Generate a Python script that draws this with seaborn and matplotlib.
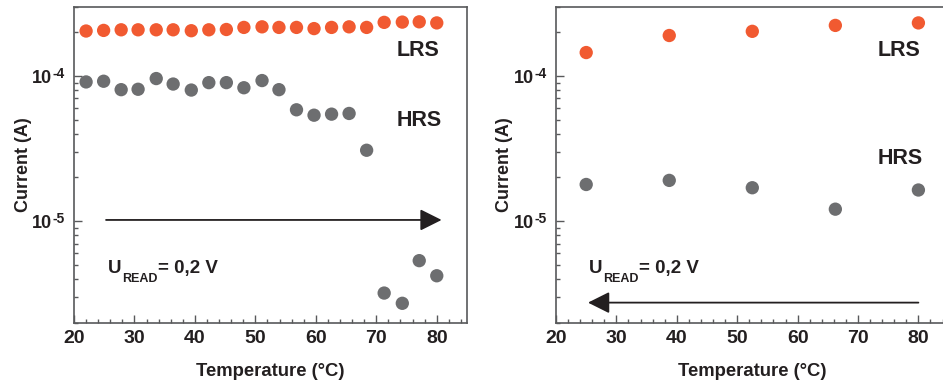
import matplotlib
matplotlib.use("Agg")
import matplotlib.pyplot as plt
import seaborn as sns
import pandas as pd
from matplotlib.ticker import LogLocator, FixedLocator, MultipleLocator, NullFormatter
from matplotlib.transforms import offset_copy, blended_transform_factory

sns.set_theme(style="ticks")
plt.rcParams['font.family'] = ['Liberation Sans', 'DejaVu Sans']
plt.rcParams['font.weight'] = 'bold'

# ---- data: heating (left panel) ----
temp_heat = [22.0, 24.9, 27.8, 30.6, 33.6, 36.4, 39.4, 42.3, 45.2, 48.1, 51.1,
             53.9, 56.8, 59.7, 62.6, 65.5, 68.4, 71.3, 74.3, 77.1, 80.0]
lrs_heat = [2.04e-4, 2.06e-4, 2.08e-4, 2.08e-4, 2.08e-4, 2.08e-4, 2.05e-4, 2.08e-4,
            2.09e-4, 2.16e-4, 2.18e-4, 2.16e-4, 2.16e-4, 2.12e-4, 2.16e-4, 2.18e-4,
            2.16e-4, 2.34e-4, 2.35e-4, 2.36e-4, 2.32e-4]
hrs_heat = [9.1e-5, 9.2e-5, 8.05e-5, 8.1e-5, 9.6e-5, 8.8e-5, 8.0e-5, 9.0e-5, 9.0e-5,
            8.3e-5, 9.3e-5, 8.05e-5, 5.85e-5, 5.37e-5, 5.46e-5, 5.52e-5, 3.08e-5,
            3.2e-6, 2.72e-6, 5.35e-6, 4.21e-6]

# ---- data: cooling (right panel) ----
temp_cool = [25.0, 38.75, 52.5, 66.25, 80.0]
lrs_cool = [1.45e-4, 1.90e-4, 2.03e-4, 2.23e-4, 2.32e-4]
hrs_cool = [1.79e-5, 1.91e-5, 1.70e-5, 1.21e-5, 1.64e-5]

x_ticks = [20, 30, 40, 50, 60, 70, 80]
y_ticks = [1e-5, 1e-4]
y_exponents = ['-5', '-4']

C_LRS = '#F15A31'
C_HRS = '#6D6E70'
C_TXT = '#231F20'
C_SPINE = '#58595B'

W, H = 943, 381
PT = 0.72  # points per pixel at 100 dpi
fig = plt.figure(figsize=(W / 100, H / 100), dpi=100)

def px_axes(x0, y0, x1, y1):
    return fig.add_axes([x0 / W, 1 - y1 / H, (x1 - x0) / W, (y1 - y0) / H])

axL = px_axes(74, 6.7, 467, 322.7)
axR = px_axes(556, 6.7, 556 + 65 * 6.04, 322.7)

def style(ax, ylab_x):
    ax.set_yscale('log')
    ax.set_xlim(20, 85)
    ax.set_ylim(2e-6, 3e-4)
    ax.xaxis.set_major_locator(FixedLocator(x_ticks))
    ax.xaxis.set_minor_locator(MultipleLocator(2))
    ax.set_xticklabels([str(t) for t in x_ticks])
    ax.yaxis.set_major_locator(FixedLocator(y_ticks))
    ax.yaxis.set_major_formatter(NullFormatter())
    ax.yaxis.set_minor_locator(LogLocator(base=10, subs=range(2, 10), numticks=20))
    ax.yaxis.set_minor_formatter(NullFormatter())
    ax.tick_params(which='both', direction='in', color=C_SPINE, width=1.0,
                   top=False, right=False)
    ax.tick_params(which='major', length=6, labelsize=14, labelcolor=C_TXT, pad=5)
    ax.tick_params(which='minor', length=3)
    for s in ax.spines.values():
        s.set_color(C_SPINE)
        s.set_linewidth(1.2)
    ax.set_xlabel('Temperature (°C)', fontsize=13.3, fontweight='bold', color=C_TXT, labelpad=12)
    ax.set_ylabel('Current (A)', fontsize=13, fontweight='bold', color=C_TXT)
    ax.yaxis.set_label_coords(ylab_x, 0.5)
    ax.grid(False)

dfL = pd.DataFrame({'T': temp_heat + temp_heat,
                    'I': lrs_heat + hrs_heat,
                    'state': ['LRS'] * len(temp_heat) + ['HRS'] * len(temp_heat)})
dfR = pd.DataFrame({'T': temp_cool + temp_cool,
                    'I': lrs_cool + hrs_cool,
                    'state': ['LRS'] * len(temp_cool) + ['HRS'] * len(temp_cool)})
pal = {'LRS': C_LRS, 'HRS': C_HRS}

for ax, df, lx in [(axL, dfL, -0.108), (axR, dfR, -0.11)]:
    sns.scatterplot(data=df, x='T', y='I', hue='state', palette=pal, s=92,
                    linewidth=0, legend=False, ax=ax, zorder=3)
    style(ax, lx)

fig.canvas.draw()
R = fig.canvas.get_renderer()

def ytick_labels(ax):
    tr = blended_transform_factory(ax.transAxes, ax.transData)
    for val, ex in zip(y_ticks, y_exponents):
        sup_tr = offset_copy(tr, fig=fig, x=-9 * PT, y=-2 * PT, units='points')
        t_sup = ax.text(0, val, ex, fontsize=10, fontweight='bold', color=C_TXT,
                        ha='right', va='baseline', transform=sup_tr, clip_on=False)
        w = t_sup.get_window_extent(R).width
        base_tr = offset_copy(tr, fig=fig, x=(-9 - w - 0.5) * PT, y=-7 * PT, units='points')
        ax.text(0, val, '10', fontsize=13, fontweight='bold', color=C_TXT,
                ha='right', va='baseline', transform=base_tr, clip_on=False)

def uread(ax, x, y):
    t1 = ax.text(x, y, 'U', fontsize=13.5, fontweight='bold', color=C_TXT, va='baseline')
    w1 = t1.get_window_extent(R).width
    tr = offset_copy(ax.transData, fig=fig, x=(w1 + 0.5) * PT, y=-8.6 * PT, units='points')
    t2 = ax.text(x, y, 'READ', fontsize=9, fontweight='bold', color=C_TXT,
                 va='baseline', transform=tr)
    w2 = t2.get_window_extent(R).width
    tr2 = offset_copy(ax.transData, fig=fig, x=(w1 + w2 + 1) * PT, y=0, units='points')
    ax.text(x, y, '= 0,2 V', fontsize=13.5, fontweight='bold', color=C_TXT,
            va='baseline', transform=tr2)

for ax in (axL, axR):
    ytick_labels(ax)

# annotations left
axL.text(73.3, 1.49e-4, 'LRS', fontsize=15.5, fontweight='bold', color=C_TXT, va='center')
axL.text(73.3, 4.9e-5, 'HRS', fontsize=15.5, fontweight='bold', color=C_TXT, va='center')
uread(axL, 25.6, 4.4e-6)
axL.annotate('', xy=(80.8, 1.02e-5), xytext=(25.3, 1.02e-5),
             arrowprops=dict(arrowstyle='-|>,head_length=1.1,head_width=0.55',
                             color=C_TXT, lw=1.3, shrinkA=0, shrinkB=0))

# annotations right
axR.text(73.3, 1.49e-4, 'LRS', fontsize=15.5, fontweight='bold', color=C_TXT, va='center')
axR.text(73.3, 2.72e-5, 'HRS', fontsize=15.5, fontweight='bold', color=C_TXT, va='center')
uread(axR, 25.5, 4.4e-6)
axR.annotate('', xy=(25.3, 2.75e-6), xytext=(80.0, 2.75e-6),
             arrowprops=dict(arrowstyle='-|>,head_length=1.1,head_width=0.55',
                             color=C_TXT, lw=1.3, shrinkA=0, shrinkB=0))

fig.savefig('out.png', dpi=100)
